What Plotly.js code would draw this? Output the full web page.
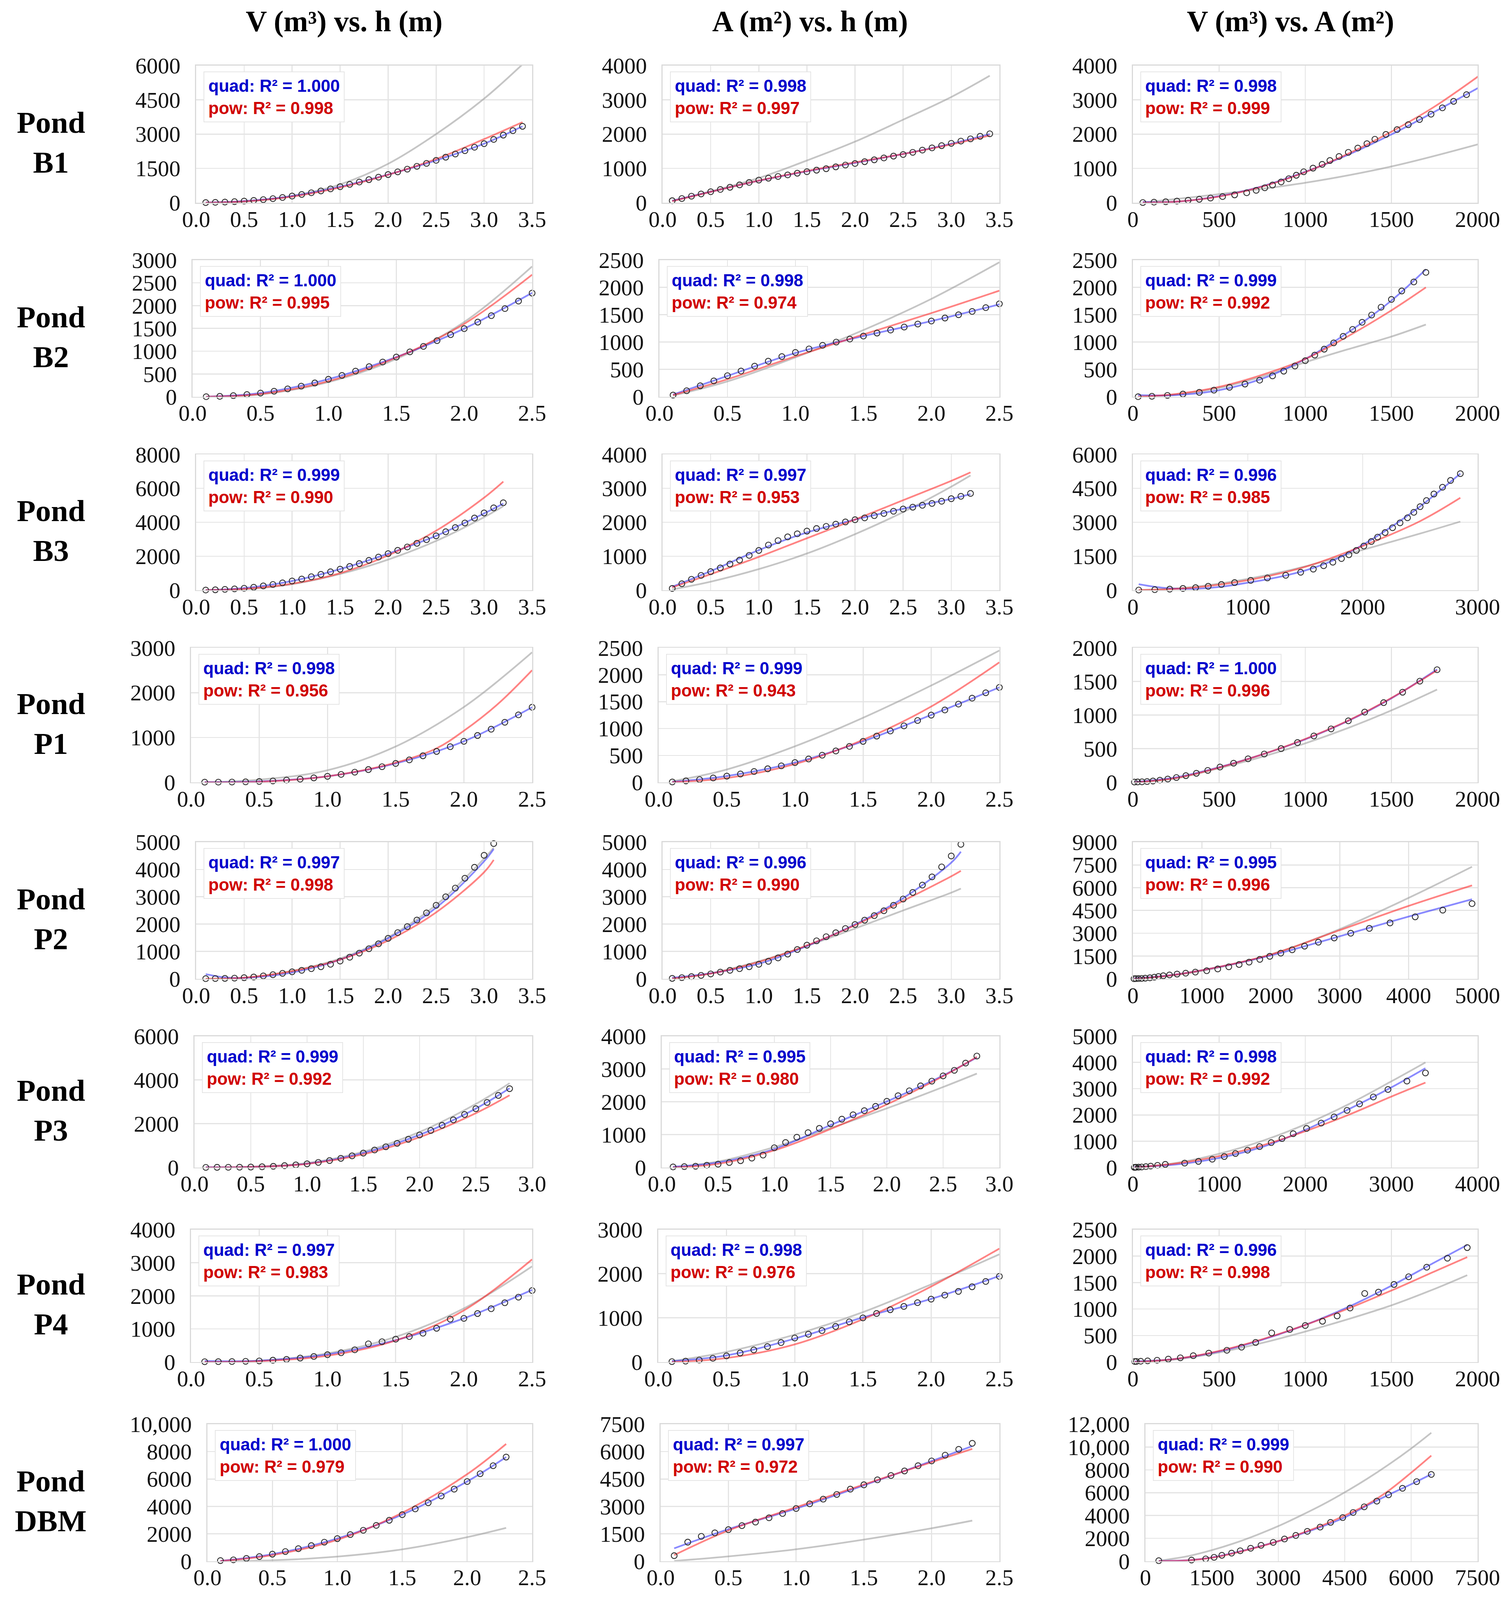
<!DOCTYPE html>
<html><head><meta charset="utf-8">
<script src="https://cdn.plot.ly/plotly-3.0.1.min.js"></script>
<style>html,body{margin:0;padding:0;background:#fff;overflow:hidden;}</style>
</head><body><div id="chart"></div>
<script>
// ---------------- DATA ----------------
const ponds = ['B1','B2','B3','P1','P2','P3','P4','DBM'];
const colTitles = ['V (m³) vs. h (m)','A (m²) vs. h (m)','V (m³) vs. A (m²)'];

const hB1 = [0.1,0.2,0.3,0.4,0.5,0.6,0.7,0.8,0.9,1.0,1.1,1.2,1.3,1.4,1.5,1.6,1.7,1.8,1.9,2.0,2.1,2.2,2.3,2.4,2.5,2.6,2.7,2.8,2.9,3.0,3.1,3.2,3.3,3.4];
const vB1 = [5,15,28,46,70,100,136,178,228,290,360,435,515,605,700,800,902,1008,1117,1230,1348,1468,1592,1720,1850,1990,2130,2275,2425,2580,2765,2955,3150,3340];
const aB1 = [57,122,190,255,320,385,450,520,590,660,715,765,810,860,904,948,991,1045,1098,1143,1196,1250,1305,1358,1404,1468,1533,1598,1663,1730,1796,1861,1936,2009];

const hB2 = [0.1,0.2,0.3,0.4,0.5,0.6,0.7,0.8,0.9,1.0,1.1,1.2,1.3,1.4,1.5,1.6,1.7,1.8,1.9,2.0,2.1,2.2,2.3,2.4,2.5];
const vB2 = [0,8,24,48,80,120,172,232,302,382,468,562,660,762,870,985,1105,1232,1362,1495,1638,1780,1935,2100,2275];
const aB2 = [30,110,200,290,385,470,560,650,735,810,875,940,1000,1055,1110,1165,1220,1275,1330,1385,1440,1500,1560,1630,1700];

const hB3 = [0.1,0.2,0.3,0.4,0.5,0.6,0.7,0.8,0.9,1.0,1.1,1.2,1.3,1.4,1.5,1.6,1.7,1.8,1.9,2.0,2.1,2.2,2.3,2.4,2.5,2.6,2.7,2.8,2.9,3.0,3.1,3.2];
const vB3 = [5,20,45,75,110,170,250,335,430,540,655,790,930,1080,1235,1395,1565,1755,1950,2150,2345,2545,2760,2975,3200,3440,3690,3960,4250,4550,4850,5150];
const aB3 = [50,190,320,435,545,655,770,885,1025,1170,1330,1460,1570,1660,1740,1815,1880,1945,2010,2075,2130,2195,2260,2325,2390,2445,2500,2555,2620,2695,2765,2850];

const hP1 = [0.1,0.2,0.3,0.4,0.5,0.6,0.7,0.8,0.9,1.0,1.1,1.2,1.3,1.4,1.5,1.6,1.7,1.8,1.9,2.0,2.1,2.2,2.3,2.4,2.5];
const vP1 = [5,6,8,12,20,32,50,72,100,135,178,228,285,350,422,502,592,690,795,915,1045,1185,1340,1505,1675];
const aP1 = [8,27,52,82,116,156,202,252,307,368,434,505,584,668,762,860,955,1050,1150,1250,1345,1455,1565,1665,1765];

const hP2 = [0.1,0.2,0.3,0.4,0.5,0.6,0.7,0.8,0.9,1.0,1.1,1.2,1.3,1.4,1.5,1.6,1.7,1.8,1.9,2.0,2.1,2.2,2.3,2.4,2.5,2.6,2.7,2.8,2.9,3.0,3.1];
const vP2 = [5,10,15,25,40,65,105,150,200,255,310,370,440,530,650,790,940,1100,1280,1480,1690,1910,2150,2410,2690,3000,3320,3680,4080,4520,4950];
const aP2 = [15,42,80,125,178,245,310,370,440,530,640,765,905,1070,1230,1390,1540,1685,1840,1985,2145,2310,2490,2690,2920,3160,3430,3730,4095,4495,4920];

const hP3 = [0.1,0.2,0.3,0.4,0.5,0.6,0.7,0.8,0.9,1.0,1.1,1.2,1.3,1.4,1.5,1.6,1.7,1.8,1.9,2.0,2.1,2.2,2.3,2.4,2.5,2.6,2.7,2.8];
const vP3 = [2,4,7,10,17,30,50,80,115,165,230,315,415,530,655,795,945,1100,1285,1485,1690,1925,2175,2420,2685,2970,3290,3600];
const aP3 = [15,25,35,65,100,150,205,285,375,600,760,920,1060,1190,1330,1470,1605,1730,1860,2015,2185,2335,2485,2630,2790,2960,3180,3395];

const hP4 = [0.1,0.2,0.3,0.4,0.5,0.6,0.7,0.8,0.9,1.0,1.1,1.2,1.3,1.4,1.5,1.6,1.7,1.8,1.9,2.0,2.1,2.2,2.3,2.4,2.5];
const vP4 = [10,12,15,22,34,55,80,120,168,222,280,370,550,615,690,770,870,1020,1295,1320,1465,1610,1790,1960,2160];
const aP4 = [10,20,45,85,140,205,275,350,440,545,630,712,805,910,1000,1100,1185,1260,1345,1425,1515,1600,1705,1825,1940];

const hDBM = [0.1,0.2,0.3,0.4,0.5,0.6,0.7,0.8,0.9,1.0,1.1,1.2,1.3,1.4,1.5,1.6,1.7,1.8,1.9,2.0,2.1,2.2,2.3];
const vDBM = [40,95,200,335,510,700,910,1130,1385,1645,1940,2255,2610,2985,3395,3815,4265,4760,5260,5815,6385,6970,7600];
const aDBM = [300,1040,1360,1550,1725,1945,2140,2375,2610,2885,3140,3395,3655,3945,4180,4455,4690,4940,5225,5490,5805,6125,6455];

// Curves: [x, y] pairs (gray reference, blue quad fit, red power fit)
const B1_vh_gray = [[0.1,0],[0.5,45],[1,300],[1.5,800],[2,1700],[2.5,3000],[3,4550],[3.4,6050]];
const B1_vh_quad = [[0.1,5],[0.5,70],[1,290],[1.5,700],[2,1230],[2.5,1850],[3,2580],[3.4,3340]];
const B1_vh_pow  = [[0.1,1],[0.5,55],[1,265],[1.5,665],[2,1220],[2.5,1910],[3,2780],[3.4,3520]];
const B1_ah_gray = [[0.1,60],[0.5,330],[1,720],[1.5,1230],[2,1780],[2.5,2420],[3,3080],[3.4,3700]];
const B1_ah_quad = [[0.1,55],[0.5,320],[1,640],[1.5,915],[2,1160],[2.5,1420],[3,1720],[3.4,2000]];
const B1_ah_pow  = [[0.1,45],[0.5,315],[1,645],[1.5,925],[2,1175],[2.5,1420],[3,1700],[3.4,1960]];
const B1_va_gray = [[57,5],[500,250],[1000,580],[1500,1055],[2009,1710]];
const B1_va_quad = [[57,20],[250,30],[500,190],[750,480],[1000,900],[1250,1400],[1500,1990],[1750,2650],[2009,3360]];
const B1_va_pow  = [[57,1],[250,30],[500,180],[750,470],[1000,890],[1250,1430],[1500,2070],[1750,2800],[2009,3700]];

const B2_vh_gray = [[0.1,0],[0.5,50],[1,320],[1.5,830],[2,1640],[2.5,2860]];
const B2_vh_quad = [[0.1,0],[0.5,80],[1,385],[1.5,870],[2,1495],[2.5,2280]];
const B2_vh_pow  = [[0.1,0],[0.5,60],[1,340],[1.5,860],[2,1600],[2.5,2680]];
const B2_ah_gray = [[0.1,20],[0.5,280],[1,720],[1.5,1220],[2,1790],[2.5,2460]];
const B2_ah_quad = [[0.1,40],[0.5,380],[1,800],[1.5,1110],[2,1385],[2.5,1690]];
const B2_ah_pow  = [[0.1,30],[0.5,320],[1,740],[1.5,1140],[2,1530],[2.5,1940]];
const B2_va_gray = [[30,0],[250,40],[500,160],[750,370],[1000,630],[1250,870],[1500,1100],[1700,1320]];
const B2_va_quad = [[30,30],[250,30],[500,120],[750,330],[1000,690],[1250,1180],[1500,1760],[1700,2330]];
const B2_va_pow  = [[30,0],[250,50],[500,180],[750,400],[1000,690],[1250,1110],[1500,1580],[1700,2000]];

const B3_vh_gray = [[0.1,0],[0.5,60],[1,350],[1.5,950],[2,1800],[2.5,2900],[3,4300],[3.2,4950]];
const B3_vh_quad = [[0.1,0],[0.5,120],[1,540],[1.5,1240],[2,2150],[2.5,3200],[3,4520],[3.2,5100]];
const B3_vh_pow  = [[0.1,1],[0.5,75],[1,380],[1.5,1000],[2,2050],[2.5,3500],[3,5450],[3.2,6400]];
const B3_ah_gray = [[0.1,20],[0.5,250],[1,620],[1.5,1080],[2,1650],[2.5,2300],[3,3050],[3.2,3380]];
const B3_ah_quad = [[0.1,100],[0.5,560],[1,1180],[1.5,1700],[2,2080],[2.5,2400],[3,2690],[3.2,2830]];
const B3_ah_pow  = [[0.1,80],[0.5,470],[1,980],[1.5,1530],[2,2080],[2.5,2650],[3,3220],[3.2,3470]];
const B3_va_gray = [[50,0],[500,130],[1000,500],[1500,1050],[2000,1780],[2500,2500],[2850,3030]];
const B3_va_quad = [[50,260],[250,110],[500,55],[750,140],[1000,330],[1250,560],[1500,870],[1750,1330],[2000,2000],[2250,2800],[2500,3700],[2850,5150]];
const B3_va_pow  = [[50,0],[500,100],[1000,440],[1500,1030],[2000,1950],[2500,3050],[2850,4080]];

const P1_vh_gray = [[0.1,0],[0.5,60],[1,270],[1.5,800],[2,1680],[2.5,2900]];
const P1_vh_quad = [[0.1,5],[0.5,20],[1,135],[1.5,422],[2,915],[2.5,1675]];
const P1_vh_pow  = [[0.1,0],[0.5,12],[1,135],[1.5,440],[1.8,760],[2,1150],[2.25,1750],[2.5,2500]];
const P1_ah_gray = [[0.1,20],[0.5,240],[1,670],[1.5,1200],[2,1800],[2.5,2450]];
const P1_ah_quad = [[0.1,10],[0.5,118],[1,368],[1.5,763],[2,1253],[2.5,1765]];
const P1_ah_pow  = [[0.1,5],[0.5,80],[1,340],[1.5,790],[2,1410],[2.5,2230]];
const P1_va_gray = [[8,0],[250,60],[500,210],[750,380],[1000,580],[1250,810],[1500,1070],[1765,1380]];
const P1_va_quad = [[8,5],[250,75],[500,225],[750,415],[1000,640],[1250,915],[1500,1250],[1765,1680]];
const P1_va_pow  = [[8,0],[250,65],[500,220],[750,415],[1000,645],[1250,920],[1500,1255],[1765,1665]];

const P2_vh_gray = [[0.1,0],[0.5,40],[1,290],[1.5,740],[2,1520],[2.5,2700],[3,4400],[3.1,4800]];
const P2_vh_quad = [[0.1,170],[0.3,50],[0.5,30],[1,230],[1.5,700],[2,1480],[2.5,2600],[3,4300],[3.1,4750]];
const P2_vh_pow  = [[0.1,0],[0.5,40],[1,280],[1.5,700],[2,1400],[2.5,2430],[3,3900],[3.1,4350]];
const P2_ah_gray = [[0.1,10],[0.5,200],[1,640],[1.5,1200],[2,1840],[2.5,2500],[3,3150],[3.1,3300]];
const P2_ah_quad = [[0.1,40],[0.5,200],[1,550],[1.5,1200],[2,1990],[2.5,2950],[3,4250],[3.1,4650]];
const P2_ah_pow  = [[0.1,10],[0.5,190],[1,620],[1.5,1220],[2,1960],[2.5,2850],[3,3750],[3.1,3950]];
const P2_va_gray = [[15,0],[500,180],[1000,520],[2000,1600],[3000,3270],[4000,5330],[4920,7380]];
const P2_va_quad = [[15,30],[500,210],[1000,560],[2000,1540],[3000,2800],[4000,4100],[4920,5240]];
const P2_va_pow  = [[15,0],[500,200],[1000,560],[2000,1600],[3000,3200],[4000,4800],[4920,6150]];

const P3_vh_gray = [[0.1,0],[0.5,30],[1,200],[1.5,720],[2,1620],[2.5,2900],[2.8,3850]];
const P3_vh_quad = [[0.1,10],[0.5,20],[1,170],[1.5,660],[2,1490],[2.5,2690],[2.8,3620]];
const P3_vh_pow  = [[0.1,0],[0.5,20],[1,160],[1.5,600],[2,1380],[2.5,2480],[2.8,3300]];
const P3_ah_gray = [[0.1,10],[0.5,180],[1,620],[1.5,1200],[2,1800],[2.5,2450],[2.8,2860]];
const P3_ah_quad = [[0.1,20],[0.5,150],[1,560],[1.5,1290],[2,2010],[2.5,2800],[2.8,3350]];
const P3_ah_pow  = [[0.1,0],[0.5,110],[1,520],[1.5,1170],[2,1920],[2.5,2780],[2.8,3370]];
const P3_va_gray = [[15,0],[500,170],[1000,520],[1500,1010],[2000,1640],[2500,2400],[3000,3280],[3395,4000]];
const P3_va_quad = [[15,20],[500,110],[1000,360],[1500,780],[2000,1430],[2500,2210],[3000,3050],[3395,3780]];
const P3_va_pow  = [[15,0],[500,150],[1000,430],[1500,840],[2000,1380],[2500,2000],[3000,2700],[3395,3230]];

const P4_vh_gray = [[0.1,0],[0.5,40],[1,260],[1.5,760],[2,1620],[2.5,2890]];
const P4_vh_quad = [[0.1,30],[0.5,40],[1,230],[1.5,660],[2,1320],[2.5,2180]];
const P4_vh_pow  = [[0.1,0],[0.5,25],[1,190],[1.5,650],[2,1560],[2.5,3100]];
const P4_ah_gray = [[0.1,20],[0.5,230],[1,620],[1.5,1130],[2,1760],[2.5,2440]];
const P4_ah_quad = [[0.1,20],[0.5,150],[1,530],[1.5,1010],[2,1430],[2.5,1950]];
const P4_ah_pow  = [[0.1,0],[0.5,90],[1,400],[1.5,970],[2,1710],[2.5,2570]];
const P4_va_gray = [[10,0],[250,50],[500,180],[750,360],[1000,575],[1250,810],[1500,1070],[1750,1380],[1940,1640]];
const P4_va_quad = [[10,10],[250,60],[500,200],[750,420],[1000,700],[1250,1040],[1500,1440],[1750,1880],[1940,2210]];
const P4_va_pow  = [[10,0],[250,60],[500,210],[750,430],[1000,700],[1250,1010],[1500,1350],[1750,1710],[1940,1980]];

const DBM_vh_gray = [[0.1,0],[0.5,60],[1,330],[1.5,860],[2,1750],[2.3,2430]];
const DBM_vh_quad = [[0.1,20],[0.5,510],[1,1650],[1.5,3400],[2,5820],[2.3,7600]];
const DBM_vh_pow  = [[0.1,10],[0.5,440],[1,1560],[1.5,3530],[2,6350],[2.3,8560]];
const DBM_ah_gray = [[0.1,10],[0.5,260],[1,650],[1.5,1180],[2,1800],[2.3,2220]];
const DBM_ah_quad = [[0.1,700],[0.5,1750],[1,2880],[1.5,4150],[2,5480],[2.3,6300]];
const DBM_ah_pow  = [[0.1,330],[0.5,1680],[1,2950],[1.5,4200],[2,5420],[2.3,6150]];
const DBM_va_gray = [[300,30],[1000,470],[1500,960],[2000,1560],[2500,2270],[3000,3070],[3500,3980],[4000,4950],[4500,6030],[5000,7200],[5500,8480],[6000,9870],[6455,11250]];
const DBM_va_quad = [[300,20],[1000,90],[1500,320],[2000,730],[3000,1750],[4000,3050],[4500,3830],[5000,4870],[5500,5830],[6000,6740],[6455,7620]];
const DBM_va_pow  = [[300,0],[1000,80],[1500,300],[2000,700],[3000,1750],[4000,3150],[4500,4000],[5000,4950],[5500,6200],[6000,7750],[6455,9250]];

// R² labels [col1, col2, col3]
const r2Quad = [['1.000','0.998','0.998'],['1.000','0.998','0.999'],['0.999','0.997','0.996'],['0.998','0.999','1.000'],
                ['0.997','0.996','0.995'],['0.999','0.995','0.998'],['0.997','0.998','0.996'],['1.000','0.997','0.999']];
const r2Pow  = [['0.998','0.997','0.999'],['0.995','0.974','0.992'],['0.990','0.953','0.985'],['0.956','0.943','0.996'],
                ['0.998','0.990','0.996'],['0.992','0.980','0.992'],['0.983','0.976','0.998'],['0.979','0.972','0.990']];

// axis extents
const hAxisMax   = [3.5,2.5,3.5,2.5,3.5,3.0,2.5,2.5];
const col1YMax   = [6000,3000,8000,3000,5000,6000,4000,10000];
const col1YStep  = [1500,500,2000,1000,1000,2000,1000,2000];
const col2YMax   = [4000,2500,4000,2500,5000,4000,3000,7500];
const col2YStep  = [1000,500,1000,500,1000,1000,1000,1500];
const col3XMax   = [2000,2000,3000,2000,5000,4000,2000,7500];
const col3XStep  = [500,500,1000,500,1000,1000,500,1500];
const col3YMax   = [4000,2500,6000,2000,9000,5000,2500,12000];
const col3YStep  = [1000,500,1500,500,1500,1000,500,2000];

// ---------------- BUILD ----------------
const hAll = [hB1,hB2,hB3,hP1,hP2,hP3,hP4,hDBM];
const vAll = [vB1,vB2,vB3,vP1,vP2,vP3,vP4,vDBM];
const aAll = [aB1,aB2,aB3,aP1,aP2,aP3,aP4,aDBM];
const curves = [
  [[B1_vh_gray,B1_vh_quad,B1_vh_pow],[B1_ah_gray,B1_ah_quad,B1_ah_pow],[B1_va_gray,B1_va_quad,B1_va_pow]],
  [[B2_vh_gray,B2_vh_quad,B2_vh_pow],[B2_ah_gray,B2_ah_quad,B2_ah_pow],[B2_va_gray,B2_va_quad,B2_va_pow]],
  [[B3_vh_gray,B3_vh_quad,B3_vh_pow],[B3_ah_gray,B3_ah_quad,B3_ah_pow],[B3_va_gray,B3_va_quad,B3_va_pow]],
  [[P1_vh_gray,P1_vh_quad,P1_vh_pow],[P1_ah_gray,P1_ah_quad,P1_ah_pow],[P1_va_gray,P1_va_quad,P1_va_pow]],
  [[P2_vh_gray,P2_vh_quad,P2_vh_pow],[P2_ah_gray,P2_ah_quad,P2_ah_pow],[P2_va_gray,P2_va_quad,P2_va_pow]],
  [[P3_vh_gray,P3_vh_quad,P3_vh_pow],[P3_ah_gray,P3_ah_quad,P3_ah_pow],[P3_va_gray,P3_va_quad,P3_va_pow]],
  [[P4_vh_gray,P4_vh_quad,P4_vh_pow],[P4_ah_gray,P4_ah_quad,P4_ah_pow],[P4_va_gray,P4_va_quad,P4_va_pow]],
  [[DBM_vh_gray,DBM_vh_quad,DBM_vh_pow],[DBM_ah_gray,DBM_ah_quad,DBM_ah_pow],[DBM_va_gray,DBM_va_quad,DBM_va_pow]]
];

// design grid is 3842 x 5352; the chart is fitted to the actual viewport
const W = 3842, H = 5352;
const VW = window.innerWidth || W, VH = window.innerHeight || H;
const SX = VW / W, SY = VH / H, F = Math.sqrt(SX * SY);

const rowTop = [219,870,1520,2167,2817,3466,4113,4764];
const rowBot = [678,1327,1974,2617,3274,3905,4556,5222];
const colLeft = [[502,1696,2900],[493,1688,2900],[502,1696,2900],[489,1686,2900],[502,1696,2900],[498,1694,2900],[489,1685,2900],[531,1691,2932]];
const colRight = [1362,2558,3782];
const headerX = [881,2073,3303];

const SERIF = 'Liberation Serif, Times New Roman, serif';
const SANS = 'Liberation Sans, Arial, sans-serif';
const lineStyles = [
  {color:'rgba(150,150,150,0.55)', width:5*F},
  {color:'rgba(40,40,255,0.55)', width:5*F},
  {color:'rgba(255,30,30,0.55)', width:5*F}
];

function withCommas(v){ return String(v).replace(/\B(?=(\d{3})+(?!\d))/g, ','); }
function makeTicks(max, step, dec){
  const vals=[], txt=[]; const n=Math.round(max/step);
  for(let i=0;i<=n;i++){ const v=+(i*step).toFixed(6); vals.push(v); txt.push(dec ? v.toFixed(1) : (v>=10000 ? withCommas(v) : String(v))); }
  return {vals, txt};
}

const traces = [];
const layout = {width:VW, height:VH, margin:{l:0,r:0,t:0,b:0}, paper_bgcolor:'#ffffff', plot_bgcolor:'#ffffff',
  showlegend:false, annotations:[], shapes:[]};

for(let r=0;r<8;r++){
  for(let c=0;c<3;c++){
    const k = r*3+c+1;
    const xn = 'x'+(k===1?'':k), yn = 'y'+(k===1?'':k);
    const xa = 'xaxis'+(k===1?'':k), ya = 'yaxis'+(k===1?'':k);
    const left = colLeft[r][c], right = colRight[c];
    let xt, yt, xs, ys;
    if(c===0){ xt=makeTicks(hAxisMax[r],0.5,true); yt=makeTicks(col1YMax[r],col1YStep[r],false); xs=hAll[r]; ys=vAll[r]; }
    else if(c===1){ xt=makeTicks(hAxisMax[r],0.5,true); yt=makeTicks(col2YMax[r],col2YStep[r],false); xs=hAll[r]; ys=aAll[r]; }
    else { xt=makeTicks(col3XMax[r],col3XStep[r],false); yt=makeTicks(col3YMax[r],col3YStep[r],false); xs=aAll[r]; ys=vAll[r]; }
    const common = {showgrid:true, gridcolor:'#e4e4e4', gridwidth:3*F, zeroline:false, showline:true, linecolor:'#dadada',
      linewidth:3*F, mirror:true, ticks:'', tickfont:{family:SERIF, size:66*F, color:'#111'}, tickmode:'array'};
    layout[xa] = Object.assign({}, common, {domain:[left/W, right/W], anchor:yn, range:[0, xt.vals[xt.vals.length-1]],
      tickvals:xt.vals, ticktext:xt.txt, ticklabelstandoff:Math.round(-12*F)});
    layout[ya] = Object.assign({}, common, {domain:[1-rowBot[r]/H, 1-rowTop[r]/H], anchor:xn, range:[0, yt.vals[yt.vals.length-1]],
      tickvals:yt.vals, ticktext:yt.txt, ticklabelstandoff:Math.round(26*SX)});
    curves[r][c].forEach((pts, i)=>{
      traces.push({type:'scatter', mode:'lines', xaxis:xn, yaxis:yn, x:pts.map(p=>p[0]), y:pts.map(p=>p[1]),
        line:Object.assign({shape:'spline', smoothing:1}, lineStyles[i]), hoverinfo:'skip'});
    });
    traces.push({type:'scatter', mode:'markers', xaxis:xn, yaxis:yn, x:xs, y:ys, cliponaxis:false,
      marker:{symbol:'circle-open', size:17*F, color:'#2a2a2a', line:{width:2.5*F}}, hoverinfo:'skip'});
    layout.annotations.push({xref:'paper', yref:'paper', x:(left+19)/W, y:1-(rowTop[r]+20)/H, xanchor:'left', yanchor:'top',
      align:'left', showarrow:false, bgcolor:'#ffffff', bordercolor:'#e2e2e2', borderwidth:2*F, borderpad:12*F,
      font:{family:SANS, size:50*F},
      text:'<span style="color:#0000cc"><b>quad: R² = '+r2Quad[r][c]+'</b></span><br><span style="color:#d00000"><b>pow: R² = '+r2Pow[r][c]+'</b></span>'});
  }
  layout.annotations.push({xref:'paper', yref:'paper', x:130/W, y:1-((rowTop[r]+rowBot[r])/2+28)/H, xanchor:'center', yanchor:'middle',
    showarrow:false, align:'center', font:{family:SERIF, size:90*F, color:'#000'}, text:'<b>Pond</b><br><b>'+ponds[r]+'</b>'});
}
colTitles.forEach((t,i)=>{
  layout.annotations.push({xref:'paper', yref:'paper', x:headerX[i]/W, y:1-72/H, xanchor:'center', yanchor:'middle',
    showarrow:false, font:{family:SERIF, size:86*F, color:'#000'}, text:'<b>'+t+'</b>'});
});

Plotly.newPlot('chart', traces, layout, {staticPlot:true, displayModeBar:false});
</script>
</body></html>
